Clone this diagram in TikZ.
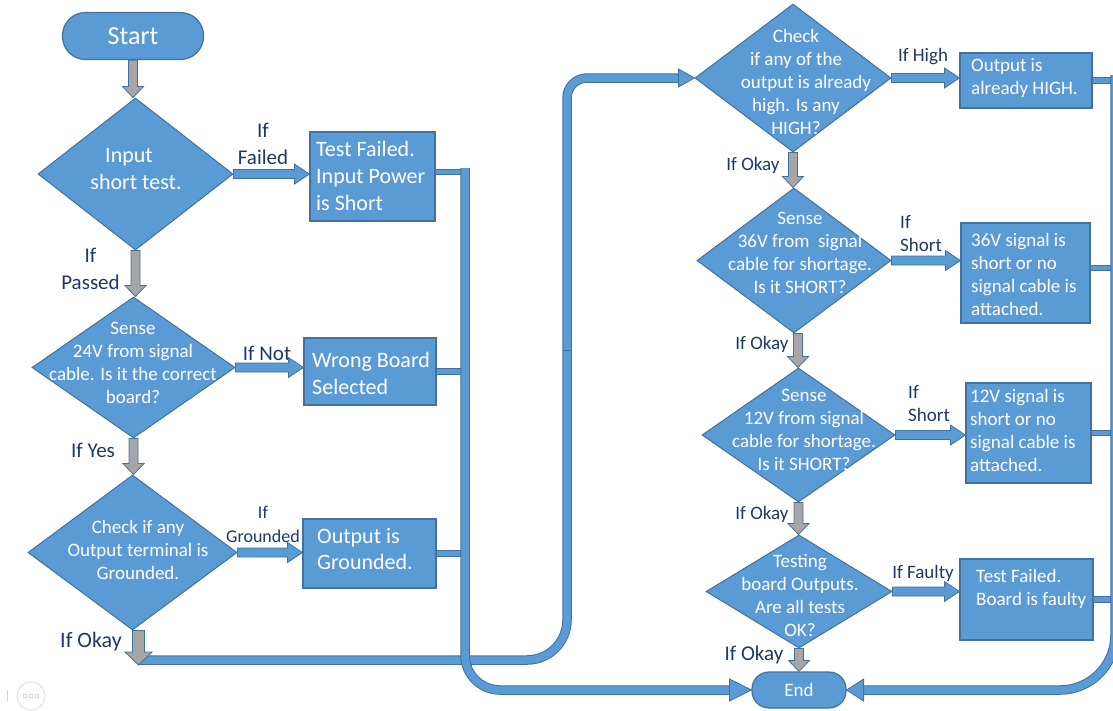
\documentclass[tikz,border=0pt]{standalone}
\usepackage{fontspec}
\setmainfont{Carlito}
\usetikzlibrary{calc,shapes.geometric}
\definecolor{fblue}{HTML}{5B9BD5}
\definecolor{eblue}{HTML}{41719C}
\definecolor{lblue}{HTML}{1F3864}
\definecolor{fgray}{HTML}{A6A6A6}
\begin{document}
\begin{tikzpicture}[x=1pt,y=-1pt,
  dia/.style={diamond, draw=eblue, fill=fblue, line width=1pt, inner sep=0pt},
  box/.style={rectangle, draw=eblue, fill=fblue, line width=1.2pt, inner sep=0pt},
  term/.style={rectangle, rounded corners=#1, draw=eblue, fill=fblue, line width=1.2pt,
    inner sep=0pt, text=white},
  wtxt/.style={text=white, align=center, inner sep=0pt, font=\fontsize{19}{23}\selectfont},
  btxt/.style={text=white, align=left, anchor=west, inner sep=0pt, font=\fontsize{19}{23}\selectfont},
  lab/.style={text=lblue, align=center, inner sep=0pt, font=\fontsize{19}{23}\selectfont},
  big/.style={font=\fontsize{22}{27}\selectfont},
  mid/.style={font=\fontsize{21}{27}\selectfont},
  pipe/.style={draw=fblue, line width=7.5pt, preaction={draw=eblue, line width=9.5pt}},
  stub/.style={draw=fblue, line width=4.5pt, preaction={draw=eblue, line width=6.5pt}},
  % block arrow pointing right: shaft half height, head half height, head length
  hshape/.style n args={3}{draw=eblue, fill=fblue, line width=0.8pt,
    to path={let \p1=(\tikztostart), \p2=(\tikztotarget) in
      (\x1,\y1+#1) -- (\x2-#3,\y1+#1) -- (\x2-#3,\y1+#2) -- (\x2,\y1)
      -- (\x2-#3,\y1-#2) -- (\x2-#3,\y1-#1) -- (\x1,\y1-#1) -- cycle}},
  % block arrow pointing down: shaft half width, head half width, head length
  vshape/.style n args={3}{draw=eblue, fill=fgray, line width=0.8pt,
    to path={let \p1=(\tikztostart), \p2=(\tikztotarget) in
      (\x1-#1,\y1) -- (\x1-#1,\y2+#3) -- (\x1-#2,\y2+#3) -- (\x1,\y2)
      -- (\x1+#2,\y2+#3) -- (\x1+#1,\y2+#3) -- (\x1+#1,\y1) -- cycle}},
  harrow/.style={hshape={4.5pt}{10pt}{15pt}},
  varrow/.style={vshape={4.5pt}{10.5pt}{11pt}},
  varbig/.style={vshape={6pt}{13.5pt}{13pt}},
  % triangular head at the end of a pipe
  ahead/.style={draw=eblue, fill=fblue, line width=0.8pt,
    to path={let \p1=(\tikztostart), \p2=(\tikztotarget) in
      (\x1,\y2+#1) -- (\x2,\y2) -- (\x1,\y2-#1) -- cycle}},
  ahead/.default=11pt,
]
\fill[white] (0,0) rectangle (1113,710);
\useasboundingbox (0,0) rectangle (1113,710);

% ---------- left column ----------
\node[term=23pt, minimum width=141pt, minimum height=47pt,
      font=\fontsize{26}{30}\selectfont] (start) at (133,36) {Start};
\node[dia, minimum width=195pt, minimum height=152pt] (in) at (135.5,174) {};
\node[wtxt, big] (int) at (136,169.5) {Input\hspace*{14pt}\\short test.};
\node[box, minimum width=125pt, minimum height=89pt] (tf) at (372.5,176.5) {};
\node[btxt, big] (tft) at (316,176) {Test Failed.\\Input Power\\is Short};

\node[dia, minimum width=203pt, minimum height=141pt] (s24) at (133.5,367.5) {};
\node[wtxt] (s24t) at (133,362.5) {Sense\\24V from signal\\cable. Is it the correct\\board?};
\node[box, minimum width=132pt, minimum height=67pt] (wb) at (370,371.5) {};
\node[btxt, big] (wbt) at (312,373.5) {Wrong Board\\Selected};

\node[dia, minimum width=209pt, minimum height=155pt] (gnd) at (132.5,552.5) {};
\node[wtxt] (gndt) at (138,550) {Check if any\\Output terminal is\\Grounded.};
\node[box, minimum width=133pt, minimum height=69pt] (og) at (369.5,553.5) {};
\node[btxt, font=\fontsize{22}{26}\selectfont] (ogt) at (317,549) {Output is\\Grounded.};

\node[lab, mid] (l1) at (263,143.5) {If\\Failed};
\node[lab, mid] (l2) at (90.5,269) {If\\Passed};
\node[lab, mid] (l3) at (267,353) {If Not};
\node[lab, mid] (l4) at (93,450) {If Yes};
\node[lab, font=\fontsize{18}{24}\selectfont] (l5) at (263,524) {If\\Grounded};
\node[lab, big] (l6) at (91,642) {If Okay};

% ---------- right column ----------
\node[dia, minimum width=196pt, minimum height=148pt] (chk) at (793,78) {};
\node[wtxt] (chkt) at (796,82) {Check\\if any of the\\\hspace*{20pt}output is already\\high. Is any\\HIGH?};
\node[box, minimum width=132pt, minimum height=55pt] (oh) at (1026,80.5) {};
\node[btxt] (oht) at (971,78) {Output is\\already HIGH.};

\node[dia, minimum width=194pt, minimum height=145pt] (s36) at (794,260.5) {};
\node[wtxt] (s36t) at (800,252.5) {Sense\\36V from\ \ signal\\cable for shortage.\\Is it SHORT?};
\node[box, minimum width=129pt, minimum height=100pt] (sh36) at (1025.5,273) {};
\node[btxt] (sh36t) at (971,274.5) {36V signal is\\short or no\\signal cable is\\attached.};

\node[dia, minimum width=193pt, minimum height=134pt] (s12) at (798.5,435) {};
\node[wtxt] (s12t) at (804,429.5) {Sense\\12V from signal\\cable for shortage.\\Is it SHORT?};
\node[box, minimum width=125pt, minimum height=100pt] (sh12) at (1028.5,433) {};
\node[btxt] (sh12t) at (970,430.5) {12V signal is\\short or no\\signal cable is\\attached.};

\node[dia, minimum width=186pt, minimum height=113pt] (tst) at (799,591.5) {};
\node[wtxt] (tstt) at (800,595.5) {Testing\\board Outputs.\\Are all tests\\OK?};
\node[box, minimum width=133pt, minimum height=81pt] (bf) at (1026.5,599.5) {};
\node[btxt] (bft) at (976,588.5) {Test Failed.\\Board is faulty};

\node[term=17pt, minimum width=94pt, minimum height=36pt,
      font=\fontsize{19}{23}\selectfont] (end) at (799,690) {End};

\node[lab] (r1) at (923,57) {If High};
\node[lab] (r2) at (753,165) {If Okay};
\node[lab, align=left, anchor=west] (r3) at (900,233.5) {If\\Short};
\node[lab] (r4) at (762,344) {If Okay};
\node[lab, align=left, anchor=west] (r5) at (908,404) {If\\Short};
\node[lab] (r6) at (762,514) {If Okay};
\node[lab] (r7) at (923,573) {If Faulty};
\node[lab, mid] (r8) at (754,655) {If Okay};

% ---------- pipes ----------
\coordinate (bstart) at (139,660);
\coordinate (bc1) at (567,660);
\path[pipe] (bstart) [rounded corners=40pt] -- (bc1) [rounded corners=20pt]
  -- (chk.west -| bc1) -- ($(chk.west)+(-14,0)$);
\path[ahead=9pt] ($(chk.west)+(-16,0)$) to (chk.west);
\draw[eblue, line width=0.7pt] (562.5,350) -- (571.5,350);

\coordinate (ja) at (465,172);
\path[stub] (tf.east |- ja) -- (ja);
\path[stub] (wb.east) -- (wb.east -| ja);
\path[stub] (og.east) -- (og.east -| ja);
\path[pipe, rounded corners=35pt] ($(ja)+(0,-4)$) -- (ja |- end.west) -- ($(end.west)+(-20,0)$);
\path[ahead] ($(end.west)+(-22,0)$) to (end.west);

\coordinate (cx) at (1115,75);
\path[stub] (oh.east) -- (oh.east -| cx);
\path[stub] ($(sh36.east)+(0,-5)$) -- +(30,0);
\path[stub] (sh12.east) -- (sh12.east -| cx);
\path[stub] (bf.east) -- (bf.east -| cx);
\path[pipe, rounded corners=55pt] (cx) -- (cx |- end.east) -- ($(end.east)+(15,0)$);
\path[ahead] ($(end.east)+(17,0)$) to (end.east);

% ---------- block arrows ----------
\path[varrow] (start.south) to (in.north);
\path[varrow] (in.south) to (s24.north);
\path[varrow] (s24.south) to (gnd.north);
\path[varbig] ($(gnd.south)+(6,0)$) to ($(bstart)+(0,5)$);
\path[harrow] (in.east) to (tf.west);
\path[harrow] (s24.east) to (wb.west);
\path[harrow] (gnd.east) to (og.west);

\path[varrow] (chk.south) to (s36.north);
\path[varrow] ($(s36.south)+(4,0)$) to (s12.north);
\path[varrow] (s12.south) to (tst.north);
\path[varrow] (tst.south) to (end.north);
\path[harrow] (chk.east) to (oh.west);
\path[harrow] (s36.east) to (sh36.west);
\path[harrow] (s12.east) to (sh12.west);
\path[harrow] (tst.east) to (bf.west);

% ---------- corner widget ----------
\draw[gray!35, line width=0.6pt] (7,690) -- (7,701);
\draw[gray!30, line width=0.7pt] (31,696) circle[radius=14pt];
\foreach \k in {25,31,37} \draw[gray!50, line width=0.5pt] (\k,696) circle[radius=2pt];
\end{tikzpicture}
\end{document}
